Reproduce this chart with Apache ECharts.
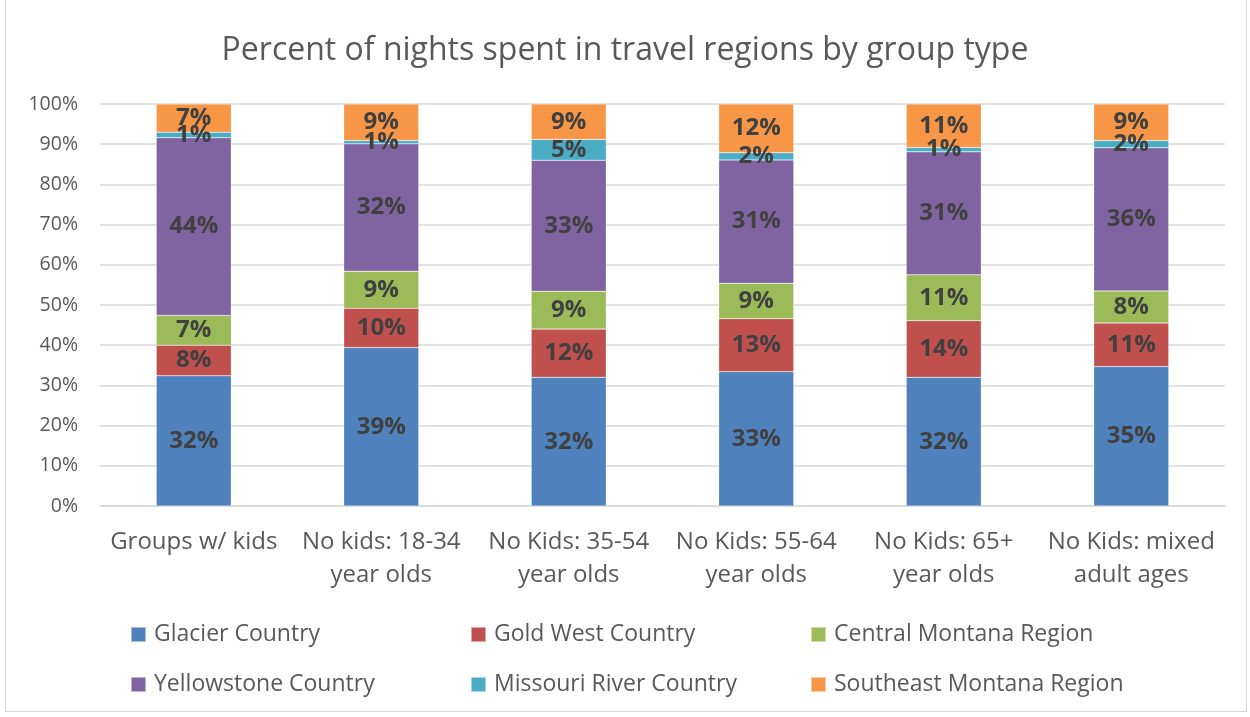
<!DOCTYPE html>
<html><head><meta charset="utf-8">
<script src="https://cdn.jsdelivr.net/npm/echarts@6/dist/echarts.min.js"></script>
<style>html,body{margin:0;padding:0;background:#fff}
#frame{position:absolute;left:5px;top:-1px;width:1242px;height:713px;border:1px solid #d9d9d9;box-sizing:border-box}
#c{width:1250px;height:717px}</style>
</head><body><div id="frame"></div><div id="c" style="position:absolute;left:0;top:0"></div>
<script>
const categories = ['Groups w/ kids','No kids: 18-34\nyear olds','No Kids: 35-54\nyear olds','No Kids: 55-64\nyear olds','No Kids: 65+\nyear olds','No Kids: mixed\nadult ages'];
const glacier = [32.4, 39.4, 32.0, 33.4, 32.0, 34.7];
const goldWest = [7.6, 9.8, 12.0, 13.2, 14.1, 10.8];
const centralMontana = [7.4, 9.2, 9.4, 8.8, 11.4, 8.0];
const yellowstone = [44.2, 31.7, 32.6, 30.7, 30.6, 35.6];
const missouriRiver = [1.4, 0.8, 5.2, 1.8, 1.1, 1.8];
const southeastMontana = [7.0, 9.1, 8.8, 12.1, 10.8, 9.1];
const yTicks = [0,10,20,30,40,50,60,70,80,90,100];

const seriesDefs = [
  ['Glacier Country', glacier, '#4F81BD'],
  ['Gold West Country', goldWest, '#C0504D'],
  ['Central Montana Region', centralMontana, '#9BBB59'],
  ['Yellowstone Country', yellowstone, '#8064A2'],
  ['Missouri River Country', missouriRiver, '#4BACC6'],
  ['Southeast Montana Region', southeastMontana, '#F79646']
];
const font = 'Open Sans';
const chart = echarts.init(document.getElementById('c'));
const legendLeft = [130, 470, 810];
const legendTop = [623, 673];
const legends = seriesDefs.map((d,i)=>({
  left: legendLeft[i%3], top: legendTop[Math.floor(i/3)], data:[d[0]],
  itemWidth:15, itemHeight:15, icon:'rect', padding:0,
  textStyle:{fontFamily:font, fontSize:23, color:'#595959', padding:[0,0,0,3]}
}));
chart.setOption({
  animation:false,
  title:{text:'Percent of nights spent in travel regions by group type', left:'center', top:30,
    textStyle:{fontFamily:font, fontSize:32, fontWeight:'normal', color:'#595959'}},
  grid:{left:100, right:25, top:104, bottom:211},
  legend: legends,
  xAxis:{type:'category', data:categories,
    axisLine:{lineStyle:{color:'#d9d9d9', width:1.5}}, axisTick:{show:false},
    axisLabel:{fontFamily:font, fontSize:24, color:'#595959', lineHeight:33, margin:20, interval:0}},
  yAxis:{type:'value', min:0, max:100, interval:10,
    axisLabel:{fontFamily:font, fontSize:19.5, color:'#595959', margin:22, formatter:v=>v+'%'},
    splitLine:{lineStyle:{color:'#d9d9d9', width:1.5}}, axisLine:{show:false}, axisTick:{show:false}},
  series: seriesDefs.map(([name,data,color])=>({
    name, type:'bar', stack:'total', data, barWidth:'40%',
    itemStyle:{color, borderColor:'rgba(255,255,255,0.5)', borderWidth:0.5},
    label:{show:true, position:'inside', fontFamily:font, fontSize:24, fontWeight:'bold', color:'#404040',
      formatter:p=>Math.round(p.value)+'%'}
  }))
});
</script></body></html>
